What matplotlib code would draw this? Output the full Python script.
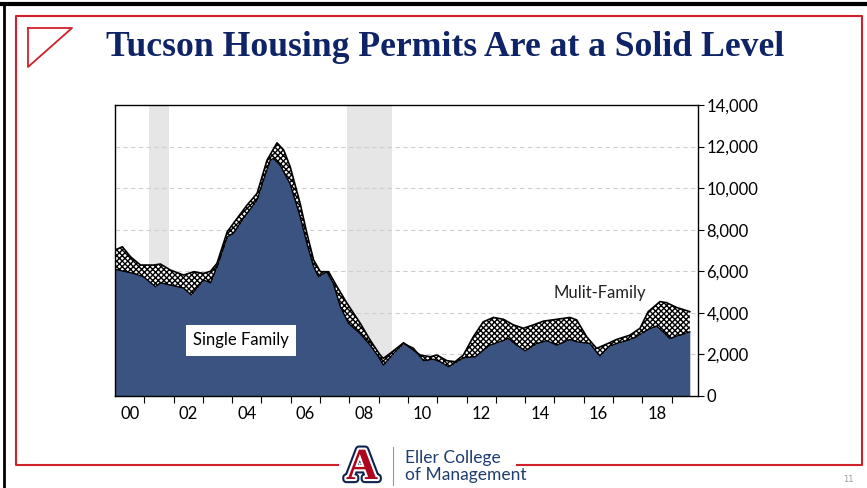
import matplotlib
matplotlib.use("Agg")
import matplotlib.pyplot as plt
import matplotlib.patheffects as pe
from matplotlib.ticker import FuncFormatter
import numpy as np

# Single-family permits (thousands, annualized)
sf_years = [2000.0, 2000.63, 2000.97, 2001.38, 2001.55, 2001.89, 2002.34, 2002.60,
            2002.80, 2003.02, 2003.26, 2003.53, 2003.83, 2004.04, 2004.51, 2004.85,
            2005.07, 2005.30, 2005.41, 2005.64, 2005.98, 2006.32, 2006.55, 2006.78,
            2006.95, 2007.23, 2007.45, 2007.69, 2007.97, 2008.37, 2008.71, 2008.99,
            2009.16, 2009.51, 2009.85, 2010.19, 2010.53, 2010.87, 2011.10, 2011.38,
            2011.67, 2011.89, 2012.29, 2012.80, 2013.14, 2013.43, 2013.71, 2014.00,
            2014.39, 2014.74, 2015.08, 2015.53, 2015.76, 2016.21, 2016.55, 2016.84,
            2017.12, 2017.46, 2017.80, 2018.15, 2018.49, 2018.71, 2018.94, 2019.28,
            2019.62]
single_family = [6.10, 5.90, 5.74, 5.26, 5.45, 5.34, 5.20, 4.86,
                 5.20, 5.58, 5.45, 6.40, 7.66, 7.84, 8.80, 9.43,
                 10.40, 11.35, 11.43, 11.10, 10.20, 8.63, 7.35, 6.22,
                 5.74, 5.98, 5.43, 4.30, 3.50, 3.00, 2.45, 1.90,
                 1.49, 2.05, 2.53, 2.30, 1.70, 1.77, 1.65, 1.41,
                 1.65, 1.84, 1.89, 2.45, 2.61, 2.77, 2.45, 2.18,
                 2.53, 2.66, 2.45, 2.72, 2.61, 2.53, 1.92, 2.37,
                 2.53, 2.66, 2.85, 3.17, 3.37, 3.09, 2.77, 2.93,
                 3.09]

# Total permits (single + multi family)
tot_years = [2000.0, 2000.25, 2000.53, 2000.87, 2001.32, 2001.55, 2001.89, 2002.34,
             2002.69, 2003.02, 2003.26, 2003.48, 2003.83, 2004.17, 2004.51, 2004.85,
             2005.19, 2005.53, 2005.76, 2005.98, 2006.32, 2006.55, 2006.78, 2007.01,
             2007.29, 2007.58, 2007.92, 2008.37, 2008.71, 2009.05, 2009.16, 2009.39,
             2009.85, 2010.42, 2010.76, 2010.99, 2011.33, 2011.61, 2011.89, 2012.23,
             2012.57, 2012.92, 2013.26, 2013.60, 2013.94, 2014.28, 2014.62, 2015.08,
             2015.53, 2015.76, 2016.10, 2016.44, 2016.78, 2017.12, 2017.58, 2017.92,
             2018.20, 2018.60, 2018.83, 2019.17, 2019.62]
total = [7.02, 7.18, 6.70, 6.30, 6.30, 6.35, 6.06, 5.82,
         5.98, 5.90, 6.00, 6.38, 7.90, 8.55, 9.19, 9.75,
         11.35, 12.18, 11.83, 11.03, 9.26, 7.83, 6.54, 5.98,
         5.98, 5.26, 4.46, 3.50, 2.69, 1.97, 1.81, 2.05,
         2.56, 1.97, 1.89, 1.97, 1.70, 1.65, 1.97, 2.85,
         3.57, 3.78, 3.69, 3.42, 3.26, 3.42, 3.60, 3.69,
         3.78, 3.66, 2.85, 2.29, 2.50, 2.72, 2.93, 3.26,
         4.06, 4.54, 4.49, 4.26, 4.06]

recessions = [(2001.17, 2001.84), (2007.92, 2009.45)]
x_labels = ['00', '02', '04', '06', '08', '10', '12', '14', '16', '18']

NAVY = '#0f2466'
RED = '#d0202a'
BLUE = '#3b5380'

fig = plt.figure(figsize=(8.67, 4.88), dpi=100)

# Slide decoration drawn in pixel coordinates
deco = fig.add_axes([0, 0, 1, 1])
deco.set_xlim(0, 867)
deco.set_ylim(488, 0)
deco.axis('off')
deco.plot([0, 867], [4, 4], color='black', lw=3)
deco.plot([4, 4], [4, 488], color='black', lw=2)
deco.plot([338, 16, 16, 862, 862, 517], [465, 465, 16, 16, 465, 465], color=RED, lw=1.5)
deco.plot([28, 72, 28, 28], [28, 28, 67, 28], color=RED, lw=1.3)
deco.text(445, 47, 'Tucson Housing Permits Are at a Solid Level', ha='center', va='center',
          fontsize=25.7, fontweight='bold', family='Liberation Serif', color=NAVY)
deco.text(362, 468, 'A', ha='center', va='center', fontsize=32, fontweight='bold',
          family='Liberation Serif', color='#ab0520',
          path_effects=[pe.Stroke(linewidth=6, foreground='#0c234b'),
                        pe.Stroke(linewidth=3, foreground='white'), pe.Normal()])
deco.plot([393, 393], [447, 485], color='#999999', lw=0.8)
deco.text(405, 458, 'Eller College', ha='left', va='center', fontsize=12.5,
          family='Lato', color='#1e3d70')
deco.text(405, 475, 'of Management', ha='left', va='center', fontsize=12.5,
          family='Lato', color='#1e3d70')
deco.text(848, 479, '11', ha='center', va='center', fontsize=6, color='#999999')

# Chart
ax = fig.add_axes([115 / 867, 92 / 488, 583 / 867, 291 / 488])
for r0, r1 in recessions:
    ax.axvspan(r0, r1, color='#e6e6e6', lw=0, zorder=0)
for g in range(2, 14, 2):
    ax.axhline(g, color='#cfcfcf', lw=0.8, ls=(0, (4, 3)), zorder=0.5)

ax.fill_between(tot_years, 0, total, facecolor='white', edgecolor='black',
                hatch='xxxxxx', lw=0, zorder=1)
ax.plot(tot_years, total, color='black', lw=1.2, zorder=3)
ax.fill_between(sf_years, 0, single_family, facecolor=BLUE, edgecolor=BLUE, lw=0, zorder=2)
ax.plot(sf_years, single_family, color='black', lw=1.0, zorder=3)

ax.text(2004.3, 2.69, 'Single Family', ha='center', va='center', fontsize=12,
        family='Lato', zorder=4,
        bbox=dict(boxstyle='square,pad=0.45', facecolor='white', edgecolor='none'))
ax.text(2016.55, 4.95, 'Mulit-Family', ha='center', va='center', fontsize=12,
        family='Lato', color='#222222', zorder=4)

ax.set_xlim(2000, 2019.9)
ax.set_ylim(0, 14)

ax.yaxis.tick_right()
ax.set_yticks(np.arange(0, 15, 2))
ax.yaxis.set_major_formatter(FuncFormatter(lambda v, p: '{:,.0f}'.format(v * 1000)))
ax.tick_params(axis='y', direction='out', length=4, width=0.8, labelsize=12, pad=2)

ax.set_xticks(np.arange(2001, 2020))
ax.set_xticklabels([])
ax.set_xticks(np.arange(2000.5, 2019, 2), minor=True)
ax.set_xticklabels(x_labels, minor=True)
ax.tick_params(axis='x', which='major', direction='out', length=5, width=0.8)
ax.tick_params(axis='x', which='minor', length=0, labelsize=12, pad=7)

for lab in ax.get_xticklabels(minor=True) + ax.get_yticklabels():
    lab.set_family('Lato')

for s in ax.spines.values():
    s.set_color('black')
    s.set_linewidth(1.0)

fig.savefig('out.png', dpi=100)
